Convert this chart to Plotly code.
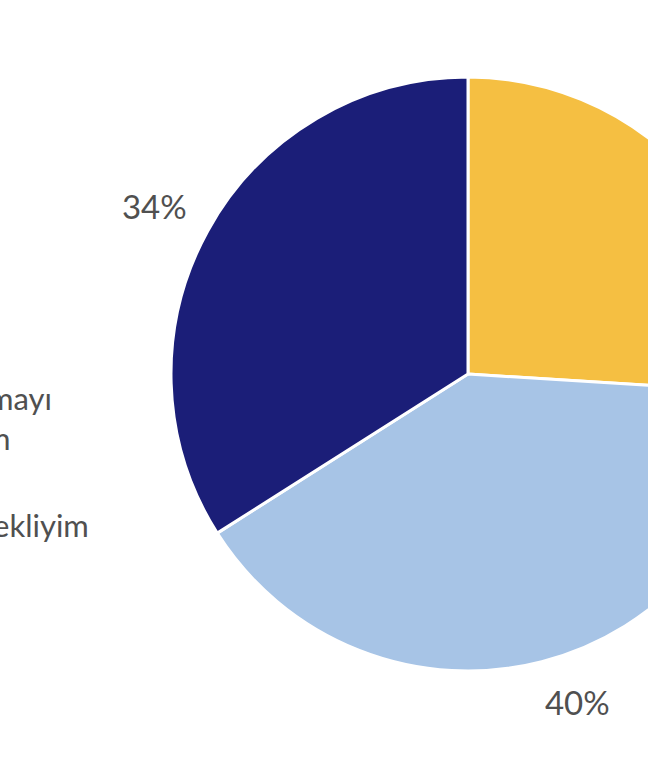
import plotly.graph_objects as go

# Data
labels = [
    "Önümüzdeki dönemde almayı<br>ciddi şekilde düşünüyorum",
    "Hayır, düşünmüyorum",
    "Fiyatların düşmesini de&nbsp; bekliyim",
]
values = [26, 40, 34]
colors = ["#F5BF42", "#A7C4E6", "#1B1E78"]

W, H = 800, 772
# pie geometry in pixels (centre, radius) -> paper domains
CX, CY = 468, 374
R_PIE, R_LBL = 297, 316.5
LBL_ROT = 2.2


def dom(r):
    return dict(
        x=[(CX - r) / W, (CX + r) / W],
        y=[(H - CY - r) / H, (H - CY + r) / H],
    )


fig = go.Figure()
fig.add_trace(
    go.Pie(
        labels=labels,
        values=values,
        sort=False,
        direction="clockwise",
        rotation=0,
        domain=dom(R_PIE),
        marker=dict(colors=colors, line=dict(color="white", width=3)),
        textinfo="none",
        hoverinfo="label+percent",
        showlegend=True,
    )
)
# percent labels drawn by a transparent companion pie (same values)
fig.add_trace(
    go.Pie(
        labels=labels,
        values=values,
        sort=False,
        direction="clockwise",
        rotation=LBL_ROT,
        domain=dom(R_LBL),
        marker=dict(colors=["rgba(0,0,0,0)"] * len(values), line=dict(width=0)),
        textposition="outside",
        texttemplate="%{percent:.0%}",
        textfont=dict(size=33, color="#505050", family="Lato"),
        hoverinfo="skip",
        showlegend=False,
    )
)

legend_left_px = -391
fig.update_layout(
    width=W,
    height=H,
    margin=dict(l=0, r=0, t=0, b=0, autoexpand=False),
    paper_bgcolor="white",
    plot_bgcolor="white",
    font=dict(family="Lato", color="#505050"),
    showlegend=True,
    legend=dict(
        x=legend_left_px / W,
        xanchor="left",
        y=0.4019,
        yanchor="middle",
        font=dict(size=31, color="#505050", family="Lato"),
        bgcolor="rgba(0,0,0,0)",
    ),
)

post = (
    "document.documentElement.style.overflow='hidden';"
    "document.body.style.overflow='hidden';"
    "document.body.style.margin='0';"
)
fig.write_html("out.html", post_script=post)
